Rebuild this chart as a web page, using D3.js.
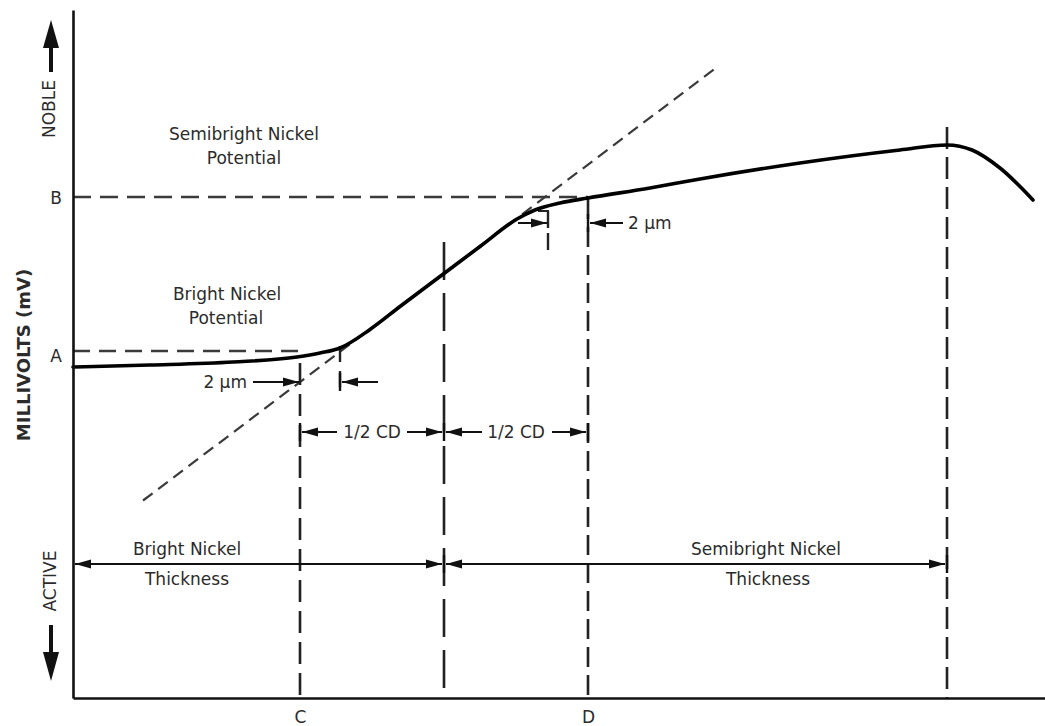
<!DOCTYPE html>
<html>
<head>
<meta charset="utf-8">
<script src="https://cdn.jsdelivr.net/npm/d3@7"></script>
<style>
  body { margin: 0; background: #fff; }
  svg { display: block; }
  text { font-family: "DejaVu Sans", Verdana, sans-serif; font-size: 17px; fill: #2b2b2b; }
</style>
</head>
<body>
<svg id="chart" width="1045" height="726"></svg>
<script>
// STEP test: potential trace while a duplex nickel deposit is dissolved
const thickness = [0, 3.85, 8, 11.2, 12.35, 13.35, 14.85, 16.35, 18.55, 20.35, 22.2, 23.1, 24.35, 25.75, 28.85, 31.35, 36.35, 41.35, 43.7, 44.95, 46.35, 48];   // µm dissolved
const potential = [-535.5, -532.5, -528, -520.5, -514.5, -507, -479.25, -444.75, -395.25, -354.75, -313.5, -300, -289.5, -282, -267, -253.5, -229.5, -210, -202.5, -210, -237, -285]; // mV

// Reference potentials (tick labels on the potential axis)
const levelNames = ["A", "B"];
const levelValues = [-511.5, -280.5];

// Transition points (tick labels on the thickness axis)
const pointNames = ["C", "D"];
const pointValues = [11.35, 25.75];
const peakThickness = 43.7;

// Tangent drawn through the transition slope
const tangentX = [3.5, 32.25];
const tangentY = [-735.75, -84.6];

const offsetMicrons = 2;

const svg = d3.select("#chart");

const x = d3.scaleLinear().domain([0, 48.6]).range([73, 1045]);
const y = d3.scaleLinear().domain([-1032, 0]).range([698, 10]);

const C = pointValues[0], D = pointValues[1];
const mid = (C + D) / 2;
const A = levelValues[0], B = levelValues[1];

// arrowhead markers
const defs = svg.append("defs");
defs.append("marker")
  .attr("id", "head")
  .attr("markerUnits", "userSpaceOnUse")
  .attr("markerWidth", 17).attr("markerHeight", 10)
  .attr("refX", 16).attr("refY", 5)
  .attr("orient", "auto-start-reverse")
  .append("path").attr("d", "M0,0.5 L16,5 L0,9.5 Z").attr("fill", "#111");

const dashColor = "#3a3a3a";

// horizontal reference levels A and B
svg.append("line")
  .attr("x1", x(0)).attr("x2", x(C))
  .attr("y1", y(A)).attr("y2", y(A))
  .attr("stroke", dashColor).attr("stroke-width", 2.6).attr("stroke-dasharray", "17,9");
svg.append("line")
  .attr("x1", x(0)).attr("x2", x(D))
  .attr("y1", y(B)).attr("y2", y(B))
  .attr("stroke", dashColor).attr("stroke-width", 2.6).attr("stroke-dasharray", "18,9");

// tangent to the transition slope
svg.append("line")
  .attr("x1", x(tangentX[0])).attr("y1", y(tangentY[0]))
  .attr("x2", x(tangentX[1])).attr("y2", y(tangentY[1]))
  .attr("stroke", dashColor).attr("stroke-width", 2.2).attr("stroke-dasharray", "12,7");

const tangentAt = t => tangentY[0] + (tangentY[1] - tangentY[0]) * (t - tangentX[0]) / (tangentX[1] - tangentX[0]);

// vertical guides down to the thickness axis
const guides = [
  { t: C, top: -529.5, dash: "22,9", w: 2.6 },
  { t: mid, top: -348, dash: "38,13", w: 2.6 },
  { t: D, top: -283.5, dash: "20,8", w: 2.6 },
  { t: peakThickness, top: -175.5, dash: "22,8", w: 2.6 }
];
svg.selectAll("line.guide").data(guides).join("line")
  .attr("class", "guide")
  .attr("x1", d => x(d.t)).attr("x2", d => x(d.t))
  .attr("y1", d => y(d.top)).attr("y2", y.range()[0])
  .attr("stroke", "#222").attr("stroke-width", d => d.w).attr("stroke-dasharray", d => d.dash);

// short markers 2 µm inside C and D
const tIn = C + offsetMicrons, tOut = D - offsetMicrons;
svg.append("line")
  .attr("x1", x(tIn)).attr("x2", x(tIn)).attr("y1", 346).attr("y2", 393)
  .attr("stroke", "#222").attr("stroke-width", 2.4).attr("stroke-dasharray", "16,9");
svg.append("line")
  .attr("x1", x(tOut)).attr("x2", x(tOut)).attr("y1", 211).attr("y2", 251)
  .attr("stroke", "#222").attr("stroke-width", 2.4).attr("stroke-dasharray", "17,5");
svg.append("line")
  .attr("x1", x(tOut) - 10).attr("x2", x(tOut) + 1).attr("y1", 211).attr("y2", 211)
  .attr("stroke", "#222").attr("stroke-width", 2);

// potential trace
const line = d3.line()
  .x(d => x(d[0])).y(d => y(d[1]))
  .curve(d3.curveMonotoneX);
svg.append("path")
  .datum(d3.zip(thickness, potential))
  .attr("d", line)
  .attr("fill", "none").attr("stroke", "#000").attr("stroke-width", 3.6)
  .attr("stroke-linejoin", "round").attr("stroke-linecap", "round");

// axes
const yAxis = d3.axisLeft(y).tickValues(levelValues)
  .tickFormat((d, i) => levelNames[i]).tickSize(0).tickSizeOuter(0).tickPadding(11);
const xAxis = d3.axisBottom(x).tickValues(pointValues)
  .tickFormat((d, i) => pointNames[i]).tickSize(0).tickSizeOuter(0).tickPadding(13);

const gy = svg.append("g").attr("transform", `translate(${x(0)},0)`).call(yAxis);
const gx = svg.append("g").attr("transform", `translate(0,${y.range()[0]})`).call(xAxis);
[gy, gx].forEach(g => {
  g.select(".domain").attr("stroke", "#111").attr("stroke-width", 2.6);
  g.selectAll("text").attr("font-family", null).attr("font-size", null).attr("fill", null);
});
gy.selectAll(".tick text").attr("dy", (d, i) => i === 0 ? "0.62em" : "0.38em");

// arrow helper: tail -> tip, optional head at the tail too
function arrow(x1, x2, yy, both) {
  const l = svg.append("line")
    .attr("x1", x1).attr("x2", x2).attr("y1", yy).attr("y2", yy)
    .attr("stroke", "#111").attr("stroke-width", 2)
    .attr("marker-end", "url(#head)");
  if (both) l.attr("marker-start", "url(#head)");
}
function tick(xx, yy, h) {
  svg.append("line").attr("x1", xx).attr("x2", xx).attr("y1", yy - h).attr("y2", yy + h)
    .attr("stroke", "#111").attr("stroke-width", 2.4);
}
function label(str, xx, yy, anchor) {
  svg.append("text").attr("x", xx).attr("y", yy)
    .attr("text-anchor", anchor || "middle").text(str);
}

// 2 µm offsets
const rowC = y(tangentAt(C));
arrow(x(C) - 47, x(C) - 1, rowC);
label("2 µm", x(C) - 53, rowC + 6, "end");
arrow(x(tIn) + 38, x(tIn) + 2, rowC);
tick(x(tIn), rowC, 9);

const rowD = 223;
arrow(x(tOut) - 30, x(tOut) - 1, rowD);
arrow(x(D) + 35, x(D) + 2, rowD);
tick(x(D), rowD, 9);
label("2 µm", x(D) + 40, rowD + 6, "start");

// half CD spans
const rowCD = 432;
tick(x(C), rowCD, 9); tick(x(mid), rowCD, 9); tick(x(D), rowCD, 9);
arrow(x(C) + 37, x(C) + 2, rowCD);
arrow(x(mid) - 37, x(mid) - 2, rowCD);
arrow(x(mid) + 38, x(mid) + 2, rowCD);
arrow(x(D) - 36, x(D) - 2, rowCD);
label("1/2 CD", (x(C) + x(mid)) / 2, rowCD + 6);
label("1/2 CD", (x(mid) + x(D)) / 2, rowCD + 6);

// layer thickness spans
const rowT = 564;
tick(x(mid), rowT, 9); tick(x(peakThickness), rowT, 9);
arrow(x(0) + 2, x(mid) - 2, rowT, true);
arrow(x(mid) + 2, x(peakThickness) - 2, rowT, true);
label("Bright Nickel", 187, rowT - 9);
label("Thickness", 187, rowT + 21);
label("Semibright Nickel", 766, rowT - 9);
label("Thickness", 768, rowT + 21);

// region labels
label("Semibright Nickel", 244, 140);
label("Potential", 244, 164);
label("Bright Nickel", 227, 300);
label("Potential", 226, 324);

// axis titles
svg.append("text")
  .attr("transform", "translate(30,355) rotate(-90)")
  .attr("text-anchor", "middle")
  .style("font-weight", "bold").style("font-size", "18px")
  .text("MILLIVOLTS (mV)");
svg.append("text")
  .attr("transform", "translate(55,109) rotate(-90)")
  .attr("text-anchor", "middle").text("NOBLE");
svg.append("text")
  .attr("transform", "translate(56,581) rotate(-90)")
  .attr("text-anchor", "middle").text("ACTIVE");

// direction arrows beside the axis titles
const dir = svg.append("g").attr("fill", "#111").attr("stroke", "none");
dir.append("rect").attr("x", 49).attr("y", 44).attr("width", 4).attr("height", 28);
dir.append("path").attr("d", "M43,48 L51,20 L59,48 Z");
dir.append("rect").attr("x", 49).attr("y", 625).attr("width", 4).attr("height", 30);
dir.append("path").attr("d", "M43,652 L51,681 L59,652 Z");
</script>
</body>
</html>
